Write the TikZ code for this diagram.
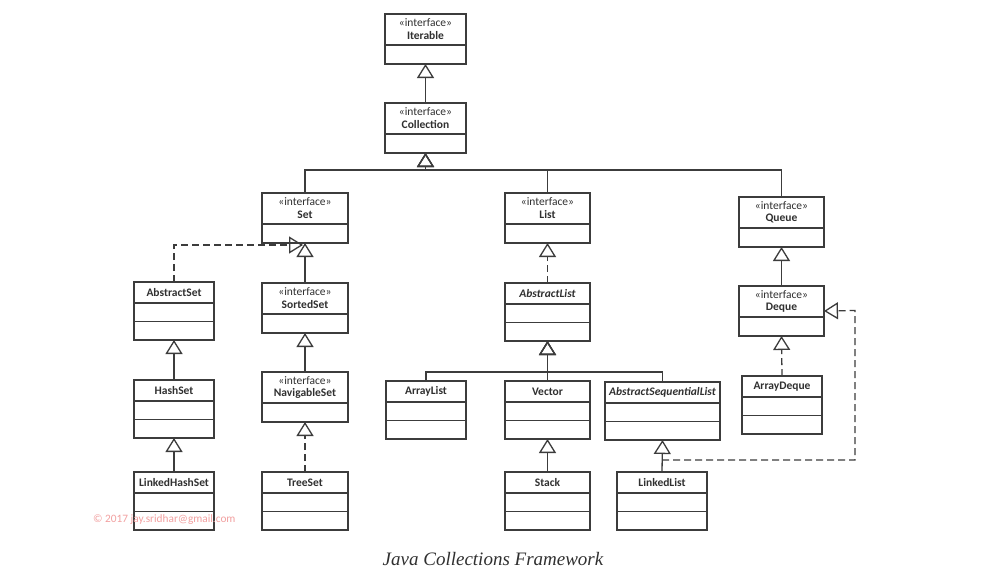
\documentclass[tikz,border=0pt]{standalone}
\usepackage{fontspec}
\setmainfont{Carlito}
\newfontfamily\capfont{Liberation Serif}
\usetikzlibrary{arrows.meta,fit}
\definecolor{linecol}{HTML}{3C3C3C}
\definecolor{textcol}{HTML}{303030}
\definecolor{wmcol}{HTML}{F2A0A0}
\newcommand\ibox[5]{%
  \node[box, fit={(#2,#3) (#4,#3+50)}] (#1) {};
  \draw[ln] (#2,#3+31) -- (#4,#3+31);
  \node[stereo] at ({(#2+#4)/2},#3+9) {«interface»};
  \node[title] at ({(#2+#4)/2},#3+21.5) {#5};
}
\newcommand\cbox[5]{%
  \node[box, fit={(#2,#3) (#4,#3+58)}] (#1) {};
  \draw[ln] (#2,#3+21) -- (#4,#3+21);
  \draw[ln] (#2,#3+39.5) -- (#4,#3+39.5);
  \node[title] at ({(#2+#4)/2},#3+10.5) {#5};
}
\begin{document}
\begin{tikzpicture}[x=1pt,y=-1pt,
  ln/.style={draw=linecol, line width=1.3pt},
  box/.style={draw=linecol, line width=1.3pt, fill=white, inner sep=0pt, outer sep=0pt},
  stereo/.style={text=textcol, font=\fontsize{11.5}{12}\selectfont, inner sep=0pt},
  title/.style={text=textcol, font=\fontsize{11.5}{12}\selectfont\bfseries, inner sep=0pt},
  inh/.style={draw=linecol, line width=1.3pt, -{Triangle[open, length=14pt, width=17pt, line width=1.3pt]}},
  real/.style={inh, dash pattern=on 7pt off 4pt},
]
\useasboundingbox[fill=white] (0,0) rectangle (1004,582);

% interfaces
\ibox{iter}{385}{14}{466}{Iterable}
\ibox{coll}{385}{103}{466}{Collection}
\ibox{set}{262}{193}{348}{Set}
\ibox{sset}{262}{283}{348}{SortedSet}
\ibox{nset}{262}{372}{348}{NavigableSet}
\ibox{list}{505}{193}{590}{List}
\ibox{queue}{739}{197}{824}{Queue}
\ibox{deque}{739}{286}{824}{Deque}
% classes
\cbox{aset}{134}{282}{214}{AbstractSet}
\cbox{hset}{134}{380}{214}{HashSet}
\cbox{lhset}{134}{472}{214}{LinkedHashSet}
\cbox{tset}{262}{472}{348}{TreeSet}
\cbox{alist}{505}{283}{590}{\itshape AbstractList}
\cbox{arrlist}{386}{381}{466}{ArrayList}
\cbox{vector}{505}{381}{590}{Vector}
\cbox{aslist}{605}{382}{720}{\itshape AbstractSequentialList}
\cbox{stack}{505}{472}{590}{Stack}
\cbox{llist}{617}{472}{707}{LinkedList}
\cbox{adeque}{742}{376}{822}{ArrayDeque}

% coordinates for joins
\coordinate (cj) at (425.5,170);
\coordinate (lj) at (547.5,372);
\coordinate (setR) at (303,245);
\coordinate (lld) at (662,460);
\coordinate (dqR) at (855,310.5);

% top
\draw[inh] (coll.north) -- (iter.south);
\draw[inh] (set.north) |- (cj) -- (coll.south);
\draw[inh] (list.north) |- (cj) -- (coll.south);
\draw[inh] (queue.north) |- (cj) -- (coll.south);

% set family
\draw[inh] (sset.north) -- (set.south);
\draw[real] (aset.north) |- (setR);
\draw[inh] (hset.north) -- (aset.south);
\draw[inh] (lhset.north) -- (hset.south);
\draw[inh] (nset.north) -- (sset.south);
\draw[real] (tset.north) -- (nset.south);

% list family
\draw[real] (alist.north) -- (list.south);
\draw[inh] (arrlist.north) |- (lj) -- (alist.south);
\draw[inh] (vector.north) -- (alist.south);
\draw[inh] (aslist.north) |- (lj) -- (alist.south);
\draw[inh] (stack.north) -- (vector.south);
\draw[inh] (llist.north) -- (aslist.south);
\draw[real] (lld) -| (dqR) -- (deque.east);

% queue family
\draw[inh] (deque.north) -- (queue.south);
\draw[real] (adeque.north) -- (deque.south);

% watermark and caption
\node[text=wmcol, font=\fontsize{11.3}{12}\selectfont, anchor=west, inner sep=0pt] (wm) at (93,520) {© 2017 jay.sridhar@gmail.com};
\node[text=textcol, font=\capfont\itshape\fontsize{19}{20}\selectfont, inner sep=0pt] (cap) at (493,559) {Java Collections Framework};
\end{tikzpicture}
\end{document}
